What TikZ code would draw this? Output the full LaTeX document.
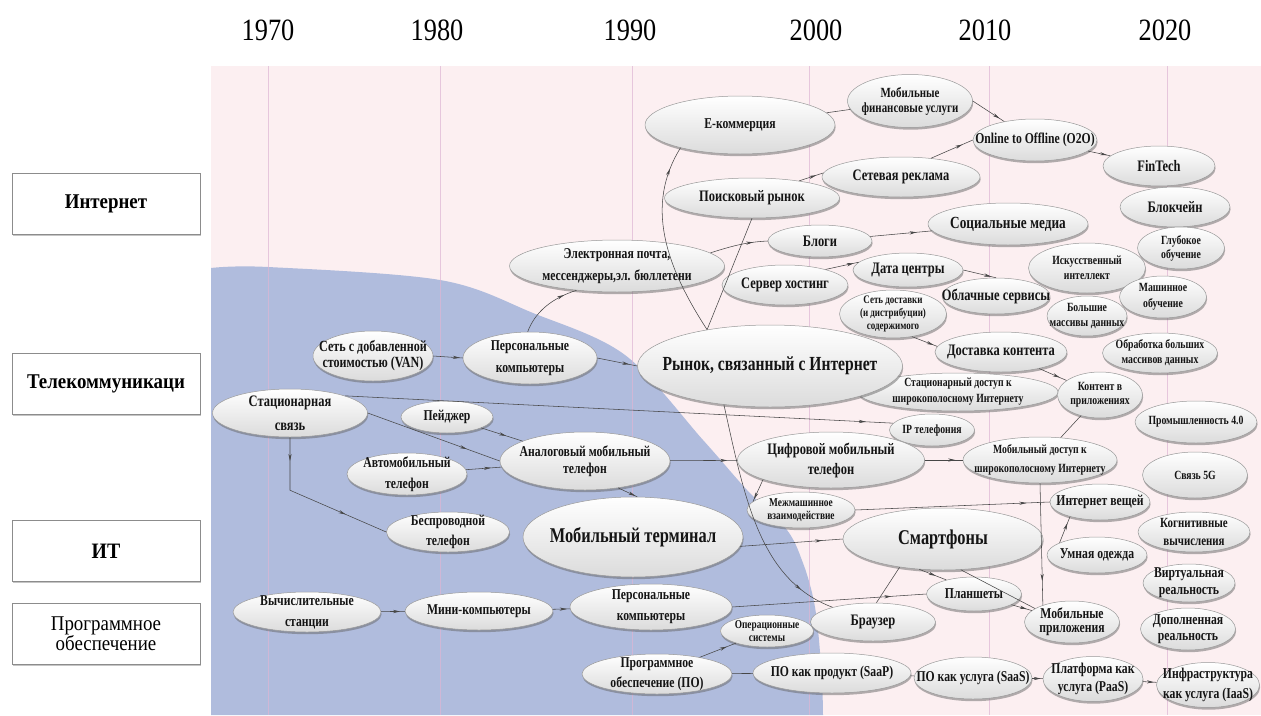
\documentclass[tikz,border=0pt]{standalone}
\usepackage{fontspec}
\setmainfont{Liberation Serif}
\newfontfamily\nf[FakeStretch=0.78]{Liberation Serif}
\newfontfamily\yf[FakeStretch=0.85]{Liberation Serif}
\newfontfamily\cf[FakeStretch=0.9]{Liberation Serif}
\usetikzlibrary{shapes.geometric,shadows,arrows.meta,decorations.markings}
\definecolor{bgpink}{RGB}{252,239,241}
\definecolor{bgblue}{RGB}{176,188,221}
\definecolor{gridc}{RGB}{222,182,212}
\newcommand\arrtip{\arrow{Stealth[length=7pt,width=3.2pt]}}
\newcommand\bub[8]{%
  \node[bubble, minimum width=#4pt, minimum height=#5pt] (#1) at (#2,#3) {};
  \node[btext, font=\nf\bfseries\fontsize{#6}{#7}\selectfont] (#1t) at (#1.center) {#8};}
\begin{document}
\begin{tikzpicture}[x=1pt,y=-1pt,
  bubble/.style={ellipse, draw=black!40, line width=0.5pt, inner sep=0pt,
    top color=white, middle color=white, bottom color=black!14,
    drop shadow={shadow xshift=0.6pt, shadow yshift=-2.2pt, fill=black!60}},
  btext/.style={align=center, inner sep=0pt, text=black!92},
  catbox/.style={rectangle, draw=black!45, line width=0.7pt, fill=white,
    minimum width=188pt, minimum height=61pt, align=center,
    drop shadow={shadow xshift=1pt, shadow yshift=-1.5pt, fill=black!45}},
  yearlbl/.style={font=\yf\fontsize{31}{31}\selectfont, inner sep=0pt},
  gridline/.style={draw=gridc, line width=0.7pt, opacity=0.7},
  link/.style={draw=black!72, line width=0.55pt},
  arr/.style={link, postaction={decorate},
    decoration={markings, mark=at position #1 with {\arrtip}}},
  arr/.default=0.97,
  arrtwo/.style 2 args={link, postaction={decorate},
    decoration={markings, mark=at position #1 with {\arrtip}, mark=at position #2 with {\arrtip}}}
]
\useasboundingbox (0,0) rectangle (1261,715);
\fill[white] (0,0) rectangle (1261,715);
\fill[bgpink] (211,66) rectangle (1261,715);
\fill[bgblue] plot[smooth, tension=0.55] coordinates {(211,268) (268,267) (440,280) (533,313) (625,355) (703,440) (747,490) (787,530) (803,563) (813,597) (818,630) (822,680) (823,715)} -- (211,715) -- cycle;
\foreach \x in {268,440,632,809,989,1167} \draw[gridline] (\x,66) -- (\x,715);

% years
\node[yearlbl] (y1970) at (268,30) {1970};
\node[yearlbl] (y1980) at (437,30) {1980};
\node[yearlbl] (y1990) at (630,30) {1990};
\node[yearlbl] (y2000) at (816,30) {2000};
\node[yearlbl] (y2010) at (985,30) {2010};
\node[yearlbl] (y2020) at (1165,30) {2020};

% categories
\node[catbox, font=\cf\bfseries\fontsize{21}{24}\selectfont] (cInternet) at (106,203.5) {Интернет};
\node[catbox, font=\cf\bfseries\fontsize{21}{24}\selectfont] (cTel) at (106,384) {Телекоммуникаци};
\node[catbox, font=\cf\bfseries\fontsize{22}{24}\selectfont] (cIT) at (106,551) {ИТ};
\node[catbox, font=\cf\fontsize{21}{20}\selectfont] (cSW) at (106,634) {Программное\\обеспечение};

% internet nodes
\bub{ecom}{740}{125}{190}{58}{15}{18}{E-коммерция}
\bub{mobfin}{910}{101}{125}{53}{14}{15}{Мобильные\\финансовые услуги}
\bub{o2o}{1035}{140}{124}{42}{15}{18}{Online to Offline (O2O)}
\bub{fintech}{1159}{166}{112}{40}{16}{18}{FinTech}
\bub{block}{1175}{207}{110}{40}{16}{18}{Блокчейн}
\bub{search}{752}{198}{175}{40}{16}{18}{Поисковый рынок}
\bub{adnet}{901}{177}{158}{40}{16}{18}{Сетевая реклама}
\bub{email}{617}{266}{215}{52}{15}{22}{Электронная почта,\\мессенджеры,эл. бюллетени}
\bub{blogs}{820}{241}{104}{32}{16}{18}{Блоги}
\bub{social}{1008}{224}{160}{42}{17}{18}{Социальные медиа}
\bub{server}{785}{285}{126}{40}{16}{18}{Сервер хостинг}
\bub{dc}{908}{270}{110}{34}{16}{18}{Дата центры}
\bub{cdn}{893}{314}{107}{48}{11.5}{13}{Сеть доставки\\(и дистрибуции)\\содержимого}
\bub{cloud}{996}{296}{108}{36}{16}{18}{Облачные сервисы}
\bub{ai}{1087}{268}{117}{50}{12.5}{15}{Искусственный\\интеллект}
\bub{deep}{1181}{248}{87}{42}{12.5}{14}{Глубокое\\обучение}
\bub{bigdata}{1087}{316}{80}{40}{12.5}{15}{Большие\\массивы данных}
\bub{ml}{1163}{297}{87}{42}{12.5}{16}{Машинное\\обучение}
\bub{bdp}{1160}{353}{115}{40}{12.5}{15}{Обработка больших\\массивов данных}
\bub{deliv}{1001}{352}{132}{40}{16}{18}{Доставка контента}
\bub{fixbb}{958}{392}{200}{38}{12.5}{16}{Стационарный доступ к\\широкополосному Интернету}
\bub{market}{770}{366}{265}{82}{20}{24}{Рынок, связанный с Интернет}
\bub{content}{1100}{395}{85}{46}{12.5}{14}{Контент в\\приложениях}
\bub{ip}{932}{430}{85}{32}{12.5}{15}{IP телефония}
\bub{ind}{1196}{422}{122}{42}{12.5}{15}{Промышленность 4.0}

% telecom nodes
\bub{van}{373}{356}{120}{50}{15.5}{16}{Сеть с добавленной\\стоимостью (VAN)}
\bub{pc1}{530}{358}{134}{52}{15}{22}{Персональные\\компьютеры}
\bub{stac}{290}{413}{155}{48}{16}{24}{Стационарная\\связь}
\bub{pager}{447}{417}{92}{32}{15}{18}{Пейджер}
\bub{auto}{407}{474}{120}{42}{15}{21}{Автомобильный\\телефон}
\bub{analog}{585}{461}{170}{58}{15}{17}{Аналоговый мобильный\\телефон}
\bub{besp}{448}{532}{123}{40}{15}{20}{Беспроводной\\телефон}
\bub{mterm}{633}{537}{220}{80}{21}{24}{Мобильный терминал}
\bub{digital}{831}{460}{187}{56}{16}{20}{Цифровой мобильный\\телефон}
\bub{mobacc}{1040}{460}{154}{46}{12.5}{19}{Мобильный доступ к\\широкополосному Интернету}
\bub{g5}{1195}{475}{105}{46}{12.5}{15}{Связь 5G}
\bub{m2m}{801}{510}{108}{36}{12}{13}{Межмашинное\\взаимодействие}
\bub{smart}{943}{539}{200}{62}{21}{24}{Смартфоны}
\bub{iot}{1100}{502}{100}{36}{15}{18}{Интернет вещей}
\bub{cogn}{1194}{532}{112}{40}{14}{18}{Когнитивные\\вычисления}
\bub{wear}{1097}{555}{100}{36}{15}{18}{Умная одежда}
\bub{vr}{1189}{583}{92}{38}{15}{17}{Виртуальная\\реальность}
\bub{ar}{1188}{629}{95}{42}{15}{16}{Дополненная\\реальность}
\bub{tablets}{974}{594}{95}{34}{15}{18}{Планшеты}
\bub{mobapp}{1072}{622}{95}{42}{15}{14}{Мобильные\\приложения}

% IT / software nodes
\bub{ws}{307}{612}{148}{40}{15}{21}{Вычислительные\\станции}
\bub{mini}{479}{611}{148}{38}{15}{18}{Мини-компьютеры}
\bub{pc2}{651}{607}{162}{46}{15}{21}{Персональные\\компьютеры}
\bub{os}{767}{631}{93}{32}{12}{13}{Операционные\\системы}
\bub{browser}{873}{622}{125}{38}{16}{18}{Браузер}
\bub{sw}{657}{674}{150}{40}{15}{20}{Программное\\обеспечение (ПО)}
\bub{saap}{832}{673}{158}{40}{15}{18}{ПО как продукт (SaaP)}
\bub{saas}{973}{678}{118}{42}{15}{18}{ПО как услуга (SaaS)}
\bub{paas}{1093}{679}{100}{45}{15}{18}{Платформа как\\услуга (PaaS)}
\bub{iaas}{1208}{685}{103}{45}{15}{20}{Инфраструктура\\как услуга (IaaS)}

% connectors
\draw[arr=0.9] (van.east) -- (pc1.west);
\draw[arr=0.8] (pc1.95) .. controls (535,312) and (552,298) .. (email.-149);
\draw[arr=0.8] (pc1.east) -- (market.west);
\draw[arr=0.75] (email.8) .. controls (735,245) and (748,242) .. (blogs.west);
\draw[arr=0.88] (market.150) .. controls (665,265) and (645,205) .. (ecom.-159);
\draw[link] (market.150) -- (search.south);
\draw[arr=0.7] (search.20) -- (adnet.177);
\draw[arr=0.75] (adnet.32) -- (o2o.west);
\draw[link] (ecom) -- (mobfin);
\draw[arr=0.85] (mobfin.east) -- (o2o.149);
\draw[arr=0.85] (o2o) -- (fintech);
\draw[arr=0.75] (blogs) -- (social);
\draw[arr=0.85] (server.21) -- (dc.171);
\draw[arr=0.85] (dc.east) -- (cloud.north);
\draw[arr=0.85] (cdn.-50) -- (deliv.175);
\draw[arr=0.75] (deliv) -- (content);
\draw[link] (content) -- (mobacc);
\draw[arr=0.95] (stac.north east) -- (ip.170);
\draw[arr=0.75] (stac.east) -- (analog.west);
\draw[arrtwo={0.15}{0.72}] (stac.south) -- ++(0,53) -- (besp.west);
\draw[arr=0.6] (pager) -- (analog);
\draw[arr=0.7] (auto) -- (analog);
\draw[arr=0.85] (analog) -- (digital);
\draw[arr=0.9] (analog.-39) -- (mterm.84);
\draw[arr=0.8] (digital) -- (mobacc);
\draw[arr=0.9] (digital.-164) -- (m2m.170);
\draw[arr=0.88] (m2m.east) -- (iot.west);
\draw[arr=0.8] (mterm.-5) -- (smart.west);
\draw[arr=0.8] (mobacc.south) -- (mobapp.150);
\draw[arr=0.75] (wear.162) -- (iot.-154);
\draw[arr=0.6] (smart.-128) -- (tablets.153);
\draw[link] (smart.-60) -- (mobapp.160);
\draw[arr=0.75] (tablets) -- (mobapp);
\draw[link] (browser.80) -- (smart.-147);
\draw[arr=0.82] (pc2.east) -- (tablets.west);
\draw[arr=0.85] (market.-140) .. controls (745,500) and (760,580) .. (browser.160);
\draw[arr=0.75] (sw) -- (os);
\draw[link] (sw) -- (saap);
\draw[link] (saap) -- (saas);
\draw[arr=0.8] (saas) -- (paas);
\draw[arr=0.8] (paas) -- (iaas);
\draw[arr=0.8] (ws) -- (mini);
\draw[arr=0.8] (mini) -- (pc2);
\end{tikzpicture}
\end{document}
